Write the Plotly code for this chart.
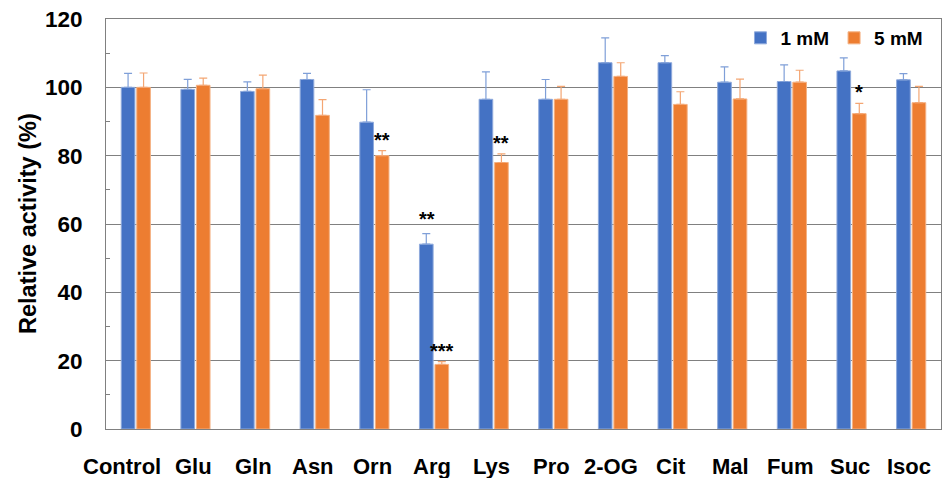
import plotly.graph_objects as go

categories = ["Control", "Glu", "Gln", "Asn", "Orn", "Arg", "Lys", "Pro",
              "2-OG", "Cit", "Mal", "Fum", "Suc", "Isoc"]
mm1 = [100.0, 99.4, 98.8, 102.3, 89.8, 54.1, 96.5, 96.5, 107.2, 107.2, 101.5, 101.7, 104.8, 102.2]
mm1_err = [4.1, 2.9, 2.8, 1.8, 9.5, 3.1, 8.0, 5.8, 7.3, 2.1, 4.5, 4.9, 3.8, 1.8]
mm5 = [100.0, 100.6, 99.6, 91.8, 80.0, 18.9, 78.0, 96.5, 103.2, 95.0, 96.6, 101.5, 92.3, 95.5]
mm5_err = [4.2, 2.1, 4.0, 4.6, 1.5, 0.8, 2.5, 3.8, 4.0, 3.7, 5.8, 3.5, 3.0, 4.8]
y_title = "Relative activity (%)"

# significance marks: (category, series, label)
sig_marks = [("Orn", "5 mM", "**"), ("Arg", "1 mM", "**"), ("Arg", "5 mM", "***"),
             ("Lys", "5 mM", "**"), ("Suc", "5 mM", "*")]

blue = "#4472C4"
orange = "#ED7D31"
font_family = "Liberation Sans, Arial, sans-serif"

fig = go.Figure()
fig.add_trace(go.Bar(
    name="1 mM", x=categories, y=mm1, marker=dict(color=blue, line=dict(color="#8FAADC", width=1)),
    error_y=dict(type="data", array=mm1_err, arrayminus=[0] * len(mm1), symmetric=False,
                 color="#7F9FD8", thickness=1.2, width=4)))
fig.add_trace(go.Bar(
    name="5 mM", x=categories, y=mm5, marker=dict(color=orange, line=dict(color="#F4B183", width=1)),
    error_y=dict(type="data", array=mm5_err, arrayminus=[0] * len(mm5), symmetric=False,
                 color="#F4A673", thickness=1.2, width=4)))

lookup = {"1 mM": (mm1, mm1_err, -7.5), "5 mM": (mm5, mm5_err, 7.5)}
for cat, ser, label in sig_marks:
    vals, errs, shift = lookup[ser]
    i = categories.index(cat)
    top = vals[i] + errs[i]
    fig.add_annotation(x=cat, y=top, text=label, showarrow=False,
                       xshift=shift, yshift=-2 if ser == "5 mM" else 2, yanchor="bottom",
                       font=dict(size=20, color="black", family=font_family, weight="bold"))

# category labels drawn as annotations (first label nudged left as in the original)
for i, cat in enumerate(categories):
    fig.add_annotation(x=cat, y=0, yref="paper", text=cat, showarrow=False,
                       xshift=-14 if i == 0 else -2, yshift=-37, yanchor="middle",
                       font=dict(size=22, color="black", family=font_family, weight="bold"))

# y-axis title
fig.add_annotation(x=0, xref="paper", y=0.5, yref="paper", text=y_title, showarrow=False,
                   textangle=-90, xanchor="center", yanchor="middle", xshift=-78,
                   font=dict(size=23.5, color="black", family=font_family, weight="bold"))

fig.update_layout(
    width=944, height=478,
    margin=dict(l=106, r=3, t=19, b=49, autoexpand=False),
    plot_bgcolor="white", paper_bgcolor="white",
    barmode="group", bargap=0.48, bargroupgap=0.12,
    font=dict(family=font_family, color="black"),
    showlegend=True,
    legend=dict(orientation="h", x=0.985, y=1.0, xanchor="right", yanchor="top",
                font=dict(size=19, family=font_family, color="black", weight="bold"),
                bgcolor="rgba(0,0,0,0)", itemwidth=30, traceorder="normal"),
)
fig.update_xaxes(
    range=[-0.5, len(categories) - 0.5],
    showline=True, linecolor="#808080", linewidth=1, mirror=True, ticks="",
    showticklabels=False, automargin=False,
)
fig.update_yaxes(
    range=[0, 120], dtick=20, showgrid=True, gridcolor="#808080", gridwidth=1,
    showline=True, linecolor="#808080", linewidth=1, mirror=True, ticks="",
    tickfont=dict(size=22.5, family=font_family, color="black", weight="bold"),
    ticklabelstandoff=18, automargin=False,
    minor=dict(dtick=10, ticks="inside", ticklen=4, tickcolor="#808080", showgrid=False),
    zeroline=False,
)

fig.write_html("out.html", config={"displayModeBar": False},
               post_script="document.body.style.margin='0';")
